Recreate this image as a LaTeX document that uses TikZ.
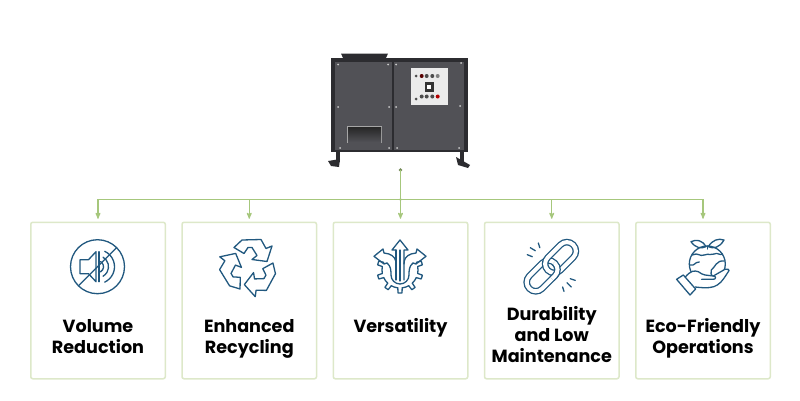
\documentclass[tikz,border=0pt]{standalone}
\usepackage{fontspec}
\setmainfont{Poppins}
\usetikzlibrary{arrows,positioning}
\definecolor{navy}{HTML}{21587F}
\definecolor{linegreen}{HTML}{A6C77C}
\definecolor{cardgreen}{HTML}{DDE8C9}
\definecolor{framegrey}{HTML}{2C2C30}
\definecolor{panelgrey}{HTML}{515156}
\tikzset{
	card/.style={draw=cardgreen, line width=1.5pt, rounded corners=2pt, fill=white, minimum width=134.5pt, minimum height=156.5pt, inner sep=0pt, outer sep=0pt},
	cardlabel/.style={align=center, font=\fontsize{17.6}{21}\selectfont\bfseries, inner sep=0pt, text=black},
	link/.style={draw=linegreen, line width=1.1pt},
	icon/.style={draw=navy, line width=1.3pt, line join=round, line cap=round},
	chain/.style={navy, line width=1.3pt, double=white, double distance=4pt, rounded corners=8.9pt},
	screw/.style={fill=black!20, draw=none},
	knob/.style={fill=black!70, draw=none}
}
\begin{document}
\begin{tikzpicture}[x=1pt, y=1pt, >=stealth', node distance=16.75pt]
		\useasboundingbox (0,0) rectangle (800,400);
		% cards
		\node[card] (card1) at (98,99.5){};
		\node[card] (card2)[right=of card1]{};
		\node[card] (card3)[right=of card2]{};
		\node[card] (card4)[right=of card3]{};
		\node[card] (card5)[right=of card4]{};
		\node[cardlabel] (label1) at ([yshift=-38.7pt]card1.center) {Volume\strut\\Reduction\strut};
		\node[cardlabel] (label2) at ([yshift=-38.7pt]card2.center) {Enhanced\strut\\Recycling\strut};
		\node[cardlabel] (label3) at ([yshift=-28.2pt]card3.center) {Versatility\strut};
		\node[cardlabel] (label4) at ([yshift=-36.5pt]card4.center) {Durability\strut\\and Low\strut\\Maintenance\strut};
		\node[cardlabel] (label5) at ([yshift=-38.7pt]card5.center) {Eco-Friendly\strut\\Operations\strut};
		% connectors
		\coordinate (top) at (card3.north |- 0,230);
		\coordinate (bus) at (card3.north |- 0,200.5);
		\fill[linegreen!70!black] (top) circle (1.8);
		\fill[linegreen!70!black] (bus) circle (1.3);
		\draw[link,->,shorten >=3.5pt] (top)--(card3.north);
		\draw[link,->,shorten >=3.5pt] (bus)-|(card1.north);
		\draw[link,->,shorten >=3.5pt] (bus)-|(card2.north);
		\draw[link,->,shorten >=3.5pt] (bus)-|(card4.north);
		\draw[link,->,shorten >=3.5pt] (bus)-|(card5.north);
		% machine
		\fill[framegrey] (341,346.5)--(388,346.5)--(386,342)--(343,342)--cycle;
		\fill[framegrey] (336,248) rectangle (340,238);
		\fill[framegrey] (460,248) rectangle (463.5,238);
		\fill[framegrey] (328,239)--(340,241)--(339,233)--(331,234)--cycle;
		\fill[framegrey] (456,243)--(470,235)--(468,232)--(458,235)--cycle;
		\fill[framegrey] (331,342) rectangle (468,248);
		\fill[panelgrey] (335,338) rectangle (391.7,250);
		\fill[panelgrey] (394.3,338) rectangle (464,250);
		\fill[black!35] (346.7,274) rectangle (382.3,256.7);
		\shade[top color=black!85, bottom color=panelgrey] (348,273) rectangle (381,258);
		\fill[black!8] (410.7,331.7) rectangle (448,294.7);
		\fill[black!80] (424.5,318) rectangle (433.5,308);
		\fill[white] (427,315.5) rectangle (431,311);
		\fill[knob] (416,324) circle (1.5);
		\fill[black!65!red] (421.7,324) circle (2);
		\fill[knob] (426.7,324) circle (2);
		\fill[knob] (432.3,324) circle (2);
		\fill[black!50] (437.7,324) circle (2);
		\fill[knob] (416,301) circle (1.5);
		\fill[knob] (421.7,303.5) circle (2);
		\fill[knob] (426.7,303.5) circle (2);
		\fill[knob] (432.3,303.5) circle (2);
		\fill[red!70!black] (437.7,303.5) circle (2);
		\fill[screw] (338,335.5) circle (1);
		\fill[screw] (388,335.5) circle (1);
		\fill[screw] (396,335.5) circle (1);
		\fill[screw] (461,337) circle (1);
		\fill[screw] (338,293) circle (1);
		\fill[screw] (389,293) circle (1);
		\fill[screw] (396,293) circle (1);
		\fill[screw] (460,294) circle (1);
		\fill[screw] (340,252) circle (1);
		\fill[screw] (389,252) circle (1);
		\fill[screw] (397,252) circle (1);
		\fill[screw] (459,252) circle (1);
		% volume icon
		\begin{scope}[shift={(97.5,133.3)}, icon]
			\draw (0,0) circle (27);
			\draw (-17.5,7)--(-9,7)--(-1.5,15)--(-1.5,-15)--(-9,-7)--(-17.5,-7)--cycle;
			\draw (1.5,-15)--(1.5,15);
			\draw (3,5.2) arc[start angle=60, end angle=-60, radius=6];
			\draw (5.5,9.5) arc[start angle=60, end angle=-60, radius=11];
			\draw (7.2,15.4) arc[start angle=65, end angle=-65, radius=17];
			\draw (-19,-19)--(19,19);
		\end{scope}
		% recycling icon
		\begin{scope}[shift={(249,133.5)}, icon]
			\foreach \r in {0,120,240}
				\draw[rotate=\r] (-15,19)--(-7,26.5)--(12,27)--(17,18)--(23,20.5)--(18,5)--(3,7)--(8,11)--(3,19)--(-1,19)--(-5,13)--cycle;
		\end{scope}
		% versatility icon
		\begin{scope}[shift={(400,133)}, icon]
			\begin{scope}[shift={(0,-3)}]
				\foreach \a in {-198,-162,-126,-90,-54,-18,18}
					\draw (\a-7:18)--(\a-5:23)--(\a+5:23)--(\a+7:18);
				\foreach \a in {-198,-162,-126,-90,-54,-18}
					\draw (\a+7:18) arc[start angle=\a+7, end angle=\a+29, radius=18];
			\end{scope}
			\draw (-4,17)--(-8,17)--(0,27)--(8,17)--(4,17)--(4,-13);
			\draw (-4,17)--(-4,-13);
			\draw (0,17)--(0,-14);
			\draw (-13,4)--(-16,3)--(-26,10.7)--(-17,18)--(-16,14)--(-11,13) .. controls (-6,11) and (-4,8) .. (-4,3);
			\draw (13,4)--(16,3)--(26,10.7)--(17,18)--(16,14)--(11,13) .. controls (6,11) and (4,8) .. (4,3);
			\draw (-13,4) .. controls (-9,1) and (-9,-4) .. (-9,-8) arc[start angle=180, end angle=360, radius=9] .. controls (9,-4) and (9,1) .. (13,4);
		\end{scope}
		% durability icon
		\begin{scope}[shift={(551.3,133.3)}]
			\begin{scope}[rotate=45]
				\draw[chain] (-31,-9) rectangle (5,9);
				\draw[chain] (-5,-9) rectangle (31,9);
				\clip (-8,-13) rectangle (7,1);
				\draw[chain] (-31,-9) rectangle (5,9);
			\end{scope}
			\draw[icon] (-24,12)--(-19,10);
			\draw[icon] (-21,19)--(-16,16);
			\draw[icon] (-13,23.7)--(-11.5,19);
			\draw[icon] (19,-12)--(24,-13.7);
			\draw[icon] (15.7,-16)--(20,-20.3);
			\draw[icon] (11.3,-20.3)--(12.7,-24.7);
		\end{scope}
		% eco icon
		\begin{scope}[shift={(707.3,136)}, icon]
			\draw (0,0) circle (18);
			\draw (-1.3,17.3) .. controls (-5,24) and (-11,25) .. (-16.3,22.3) .. controls (-12,16) and (-6,15) .. (-1.3,17.3);
			\draw (1,17.3) .. controls (5,24) and (11,26) .. (16.7,24) .. controls (12,16) and (6,15) .. (1,17.3);
			\draw (0,18)--(0,15);
			\draw (-15,9) .. controls (-9,12) and (-8,7) .. (-3,9) .. controls (2,11) and (4,8) .. (7,10) .. controls (10,12) and (13,8) .. (15,10);
			\draw (-17,-1) .. controls (-12,-2) and (-13,2) .. (-8,2);
			\draw (17,3) .. controls (9,4) and (8,-3) .. (4,-6) .. controls (3,-9) and (4,-11) .. (5,-12);
			\fill[white] (-22.3,-13.3) .. controls (-16,-6) and (-13,-6.5) .. (-9,-7.7)--(6,-12)--(17.7,-5.3)--(21,-7.7) .. controls (18,-12) and (15,-18) .. (10,-21) .. controls (6,-23.7) and (0,-24.5) .. (-12,-23)--cycle;
			\draw (6,-12)--(17.7,-5.3) .. controls (20,-4) and (23,-6) .. (21,-7.7) .. controls (18,-12) and (15,-18) .. (10,-21) .. controls (6,-23.7) and (0,-24.5) .. (-12,-23);
			\draw (-22.3,-13.3) .. controls (-16,-6) and (-13,-6.5) .. (-9,-7.7) .. controls (-6,-9) and (-5,-11) .. (-2.3,-11)--(6,-12) .. controls (9,-12) and (9,-15.3) .. (6,-15.3)--(-5.7,-15.3);
			\draw[fill=white] (-30.7,-15.3)--(-24,-11)--(-11.7,-25)--(-17.3,-31)--cycle;
		\end{scope}
	\end{tikzpicture}
\end{document}
